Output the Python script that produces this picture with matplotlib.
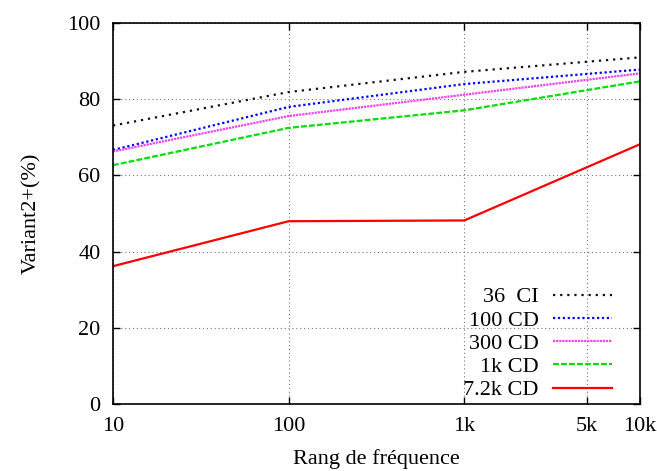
import matplotlib
matplotlib.use("Agg")
import matplotlib.pyplot as plt
from matplotlib.ticker import NullLocator

plt.rcParams['font.family'] = ['Liberation Serif', 'DejaVu Serif']

# Data
ranks = [10, 100, 1000, 10000]
ci_36 = [73.1, 81.9, 87.2, 91.0]
cd_100 = [66.7, 78.0, 84.0, 87.8]
cd_300 = [66.3, 75.6, 81.2, 86.8]
cd_1k = [62.7, 72.5, 77.1, 84.7]
cd_7k = [36.2, 48.0, 48.2, 68.2]

series_labels = ["36  CI", "100 CD", "300 CD", "1k CD", "7.2k CD"]
x_ticks = [10, 100, 1000, 5000, 10000]
x_ticklabels = ["10", "100", "1k", "5k", "10k"]
y_ticks = [0, 20, 40, 60, 80, 100]

fig = plt.figure(figsize=(6.57, 4.71), dpi=100)
ax = fig.add_axes([0.172, 0.142, 0.802, 0.809])

# Styles mimic the gnuplot line types
styles = [
    dict(color='#111111', linestyle=(0, (1, 2.2))),
    dict(color='#0000ff', linestyle=(0, (1, 1.2))),
    dict(color='#ee44ee', linestyle=(0, (1, 0.4))),
    dict(color='#00dd00', linestyle=(0, (2.6, 1.0))),
    dict(color='#ff0000', linestyle='-'),
]
for values, label, st in zip([ci_36, cd_100, cd_300, cd_1k, cd_7k], series_labels, styles):
    ax.plot(ranks, values, linewidth=1.6, label=label, **st)

ax.set_xscale('log')
ax.set_xlim(10, 10000)
ax.set_ylim(0, 100)
ax.set_xticks(x_ticks)
ax.set_xticklabels(x_ticklabels)
ax.xaxis.set_minor_locator(NullLocator())
ax.set_yticks(y_ticks)

ax.grid(True, color='#777777', linestyle=(0, (1, 2.5)), linewidth=0.8)
ax.tick_params(direction='in', top=True, right=True, length=5, width=1,
               labelsize=16, colors='black')
ax.tick_params(axis='x', pad=9)
ax.tick_params(axis='y', pad=9)
for sp in ax.spines.values():
    sp.set_linewidth(1.2)

ax.set_xlabel("Rang de fréquence", fontsize=16, labelpad=10)
ax.set_ylabel("Variant2+(%)", fontsize=16, labelpad=19)

leg = ax.legend(loc='lower right', bbox_to_anchor=(0.947, 0.01), frameon=False,
                markerfirst=False, fontsize=16, handlelength=2.65,
                handletextpad=0.65, labelspacing=0.12, borderpad=0,
                borderaxespad=0)

plt.savefig('out.png', dpi=100)
